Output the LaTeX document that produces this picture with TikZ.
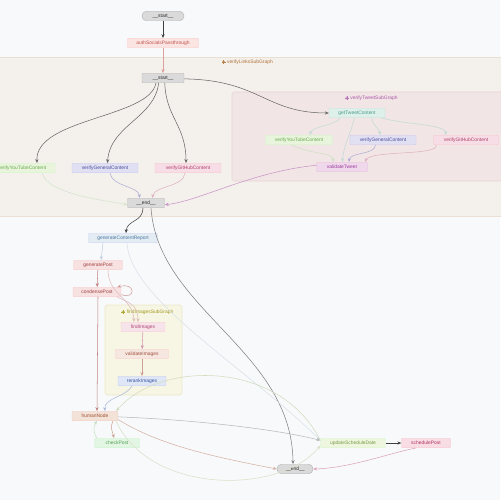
\documentclass[tikz,border=0pt]{standalone}
\usepackage{fontspec}
\setmainfont{Liberation Sans}
\usetikzlibrary{arrows.meta}
\definecolor{bg}{HTML}{F8F9FB}
\definecolor{clA}{HTML}{F4F0EC}\definecolor{clAb}{HTML}{EADFD3}
\definecolor{clB}{HTML}{F2E5E5}\definecolor{clBb}{HTML}{E8D4D4}
\definecolor{clC}{HTML}{F7F5E3}\definecolor{clCb}{HTML}{ECE8CA}
\definecolor{gfill}{HTML}{DADADA}\definecolor{gdraw}{HTML}{B5B5B5}
\definecolor{redf}{HTML}{FBE5E2}\definecolor{redt}{HTML}{C0504D}
\definecolor{tealf}{HTML}{DDF0EA}\definecolor{tealt}{HTML}{4A9A8A}
\definecolor{grnf}{HTML}{E8F5DC}\definecolor{grnt}{HTML}{6AA84F}
\definecolor{bluf}{HTML}{E0E0F2}\definecolor{blut}{HTML}{4A4AA0}
\definecolor{pnkf}{HTML}{F7DDE6}\definecolor{pnkt}{HTML}{B0406A}
\definecolor{purf}{HTML}{EFD8EC}\definecolor{purt}{HTML}{9A3A9A}
\definecolor{lbf}{HTML}{E3ECF3}\definecolor{lbt}{HTML}{4A78A0}
\definecolor{rosf}{HTML}{F7E1E1}\definecolor{rost}{HTML}{A04040}
\definecolor{fif}{HTML}{F7E4EA}\definecolor{fit}{HTML}{B04070}
\definecolor{vif}{HTML}{F6E7E1}\definecolor{vit}{HTML}{A05040}
\definecolor{rif}{HTML}{DFE6F5}\definecolor{rit}{HTML}{3050A0}
\definecolor{hnf}{HTML}{F2E2D8}\definecolor{hnt}{HTML}{A05030}
\definecolor{ckf}{HTML}{E3F5E3}\definecolor{ckt}{HTML}{50A050}
\definecolor{usf}{HTML}{EEF6E0}\definecolor{ust}{HTML}{7A9A40}
\definecolor{spf}{HTML}{F8DDE5}\definecolor{spt}{HTML}{B03060}
\tikzset{
  box/.style={rectangle, draw, rounded corners=0.5pt, line width=0.25pt, minimum height=0.19cm, inner sep=0pt, font=\fontsize{2.8}{3}\selectfont},
  pill/.style={box, fill=gfill, draw=gdraw, rounded corners=0.09cm, text=black!85},
  term/.style={box, fill=gfill, draw=gdraw, text=black!85},
  conn/.style={line width=0.3pt, -{Stealth[length=2.2pt,width=1.8pt]}},
  clus/.style={line width=0.3pt},
  clab/.style={font=\fontsize{2.8}{3}\selectfont, inner sep=0pt}
}
\begin{document}
\begin{tikzpicture}[x=0.02cm, y=-0.02cm]
\fill[bg] (0,0) rectangle (500,500);
\useasboundingbox (0,0) rectangle (500,500);
% clusters
\draw[clus, fill=clA, draw=clAb] (-2,57) rectangle (502,216);
\draw[clus, fill=clB, draw=clBb, rounded corners=1pt] (232,92) rectangle (502,181);
\draw[clus, fill=clC, draw=clCb, rounded corners=1pt] (105,305) rectangle (182,395);
\node[clab, text=orange!60!black!80] (lA) at (250,62) {verifyLinksSubGraph};
\node[clab, text=purt!85] (lB) at (374,98) {verifyTweetSubGraph};
\node[clab, text=olive!85] (lC) at (150,312) {findImagesSubGraph};
\foreach \n/\c in {lA/orange!60!black!70, lB/purt!70, lC/olive!70}{
  \draw[\c, line width=0.2pt] ([xshift=-1.8pt]\n.west) circle (0.75pt);
  \draw[\c, line width=0.2pt] ([xshift=-2.9pt]\n.west) -- ([xshift=-0.7pt]\n.west);
  \draw[\c, line width=0.2pt] ([xshift=-1.8pt,yshift=1.1pt]\n.west) -- ([xshift=-1.8pt,yshift=-1.1pt]\n.west);
}
% nodes
\node[pill, minimum width=0.84cm] (s0) at (163,16) {\_\_start\_\_};
\node[box, fill=redf, draw=redf!85!red, text=redt, minimum width=1.42cm] (auth) at (163,43) {authSocialsPassthrough};
\node[term, minimum width=0.84cm] (s1) at (163,78) {\_\_start\_\_};
\node[box, fill=tealf, draw=tealf!88!teal, text=tealt, minimum width=1.12cm] (gtc) at (357,113) {getTweetContent};
\node[box, fill=grnf, draw=grnf!88!green, text=grnt, minimum width=1.34cm] (tyt) at (299,140) {verifyYouTubeContent};
\node[box, fill=bluf, draw=bluf!88!blue, text=blut, minimum width=1.32cm] (tgen) at (383,140) {verifyGeneralContent};
\node[box, fill=pnkf, draw=pnkf!88!red, text=pnkt, minimum width=1.30cm] (tgh) at (466,140) {verifyGitHubContent};
\node[box, fill=purf, draw=purf!88!purple, text=purt, minimum width=1.02cm] (vt) at (342,167) {validateTweet};
\node[box, fill=grnf, draw=grnf!88!green, text=grnt, minimum width=1.32cm] (oyt) at (22,168) {verifyYouTubeContent};
\node[box, fill=bluf, draw=bluf!88!blue, text=blut, minimum width=1.32cm] (ogen) at (105,168) {verifyGeneralContent};
\node[box, fill=pnkf, draw=pnkf!88!red, text=pnkt, minimum width=1.32cm] (ogh) at (188,168) {verifyGitHubContent};
\node[term, minimum width=0.74cm] (e1) at (146,203) {\_\_end\_\_};
\node[box, fill=lbf, draw=lbf!88!blue, text=lbt, minimum width=1.38cm] (gcr) at (123,238) {generateContentReport};
\node[box, fill=rosf, draw=rosf!88!red, text=rost, minimum width=0.98cm] (gp) at (98,265) {generatePost};
\node[box, fill=rosf, draw=rosf!88!red, text=rost, minimum width=0.96cm] (cp) at (97,292) {condensePost};
\node[box, fill=fif, draw=fif!88!red, text=fit, minimum width=0.88cm] (fi) at (143,327) {findImages};
\node[box, fill=vif, draw=vif!88!red, text=vit, minimum width=1.06cm] (vi) at (142,354) {validateImages};
\node[box, fill=rif, draw=rif!88!blue, text=rit, minimum width=0.96cm] (ri) at (142,381) {rerankImages};
\node[box, fill=hnf, draw=hnf!88!red, text=hnt, minimum width=0.92cm] (hn) at (95,416) {humanNode};
\node[box, fill=ckf, draw=ckf!88!green, text=ckt, minimum width=0.90cm] (ck) at (117,443) {checkPost};
\node[box, fill=usf, draw=usf!88!green, text=ust, minimum width=1.30cm] (usd) at (353,443) {updateScheduleDate};
\node[box, fill=spf, draw=spf!88!red, text=spt, minimum width=0.98cm] (sp) at (426,443) {schedulePost};
\node[pill, minimum width=0.72cm] (e2) at (295,469) {\_\_end\_\_};
% connectors top
\draw[conn, black!75] (s0) -- (auth);
\draw[conn, redt!55] (auth) -- (s1);
\draw[conn, black!60] ([xshift=-4pt]s1.south) .. controls (150,118) and (35,118) .. ([xshift=0.3cm]oyt.north);
\draw[conn, black!60] ([xshift=-2.5pt]s1.south) .. controls (155,118) and (110,125) .. ([xshift=0.05cm]ogen.north);
\draw[conn, black!60] ([xshift=1pt]s1.south) .. controls (166,118) and (186,125) .. ([xshift=-0.04cm]ogh.north);
\draw[conn, black!60] ([yshift=-0.5pt]s1.east) .. controls (260,80) and (265,113) .. (gtc.west);
\draw[conn, tealt!35] ([xshift=-0.34cm]gtc.south) .. controls (335,126) and (312,126) .. ([xshift=0.22cm]tyt.north);
\draw[conn, tealt!35] ([xshift=0.3cm]gtc.south) .. controls (372,126) and (378,126) .. ([xshift=-0.05cm]tgen.north);
\draw[conn, tealt!35] ([xshift=0.5cm]gtc.south) .. controls (400,124) and (445,124) .. ([xshift=-0.4cm]tgh.north);
\draw[conn, tealt!35] ([xshift=-0.05cm]gtc.south) .. controls (350,135) and (343,148) .. ([xshift=0.01cm]vt.north);
\draw[conn, grnt!35] ([xshift=-0.15cm]tyt.south) .. controls (312,155) and (333,152) .. ([xshift=-0.18cm]vt.north);
\draw[conn, blut!45] ([xshift=-0.15cm]tgen.south) .. controls (375,155) and (350,152) .. ([xshift=0.14cm]vt.north);
\draw[conn, pnkt!40] ([xshift=-0.6cm]tgh.south) .. controls (440,156) and (370,150) .. ([xshift=0.46cm]vt.north);
\draw[conn, purt!55] ([yshift=1pt]vt.west) .. controls (250,172) and (200,201) .. ([yshift=-1pt]e1.east);
\draw[conn, grnt!30] ([xshift=0.4cm]oyt.south) .. controls (48,195) and (110,201) .. ([yshift=-1pt]e1.west);
\draw[conn, blut!45] ([xshift=0.1cm]ogen.south) .. controls (112,187) and (139,186) .. ([xshift=-0.13cm]e1.north);
\draw[conn, pnkt!40] ([xshift=-0.06cm]ogh.south) .. controls (184,187) and (154,186) .. ([xshift=0.13cm]e1.north);
% connectors bottom
\draw[conn, black!75] ([xshift=-0.06cm]e1.south) .. controls (143,222) and (127,220) .. ([xshift=0.06cm]gcr.north);
\draw[conn, black!50] ([xshift=0.1cm]e1.south) .. controls (158,310) and (292,350) .. ([xshift=-0.04cm]e2.north);
\draw[conn, lbt!35] ([xshift=-0.4cm]gcr.south) -- ([xshift=0.06cm]gp.north);
\draw[conn, lbt!22] ([xshift=0.08cm]gcr.south) .. controls (130,300) and (250,370) .. ([yshift=1.5pt]usd.west);
\draw[conn, rost!65] (gp) -- (cp);
\draw[conn, rost!35] ([xshift=0.2cm]gp.south) .. controls (108,295) and (133,298) .. ([xshift=-0.18cm]fi.north);
\draw[conn, rost!35] ([xshift=0.4cm]cp.south) .. controls (130,303) and (138,305) .. ([xshift=-0.1cm]fi.north);
\draw[conn, rost!50] ([yshift=-1.5pt]cp.east) .. controls (136,300) and (136,282) .. ([xshift=-0.08cm]cp.north east);
\draw[conn, rost!65] ([xshift=0.02cm]cp.south) -- ([xshift=0.04cm]hn.north);
\draw[conn, fit!55] (fi) -- (vi);
\draw[conn, vit!55] (vi) -- (ri);
\draw[conn, rit!40] ([xshift=-0.2cm]ri.south) .. controls (126,397) and (104,398) .. ([xshift=0.2cm]hn.north);
\draw[conn, ust!35] ([yshift=1.5pt]usd.west) .. controls (280,360) and (160,360) .. ([xshift=-0.04cm]hn.north east);
\draw[conn, black!28] ([yshift=-0.5pt]hn.east) .. controls (200,420) and (280,430) .. ([yshift=1.5pt]usd.west);
\draw[conn, hnt!45] ([yshift=-2pt]hn.east) .. controls (160,446) and (220,458) .. (e2.west);
\draw[conn, hnt!55] ([xshift=0.36cm]hn.south) .. controls (110,428) and (112,430) .. ([xshift=-0.06cm]ck.north);
\draw[conn, ckt!35] ([xshift=-0.4cm]ck.north) .. controls (95,436) and (92,428) .. ([xshift=0.04cm]hn.south);
\draw[conn, ust!30] ([xshift=0.42cm]hn.south) .. controls (150,495) and (280,495) .. ([yshift=-1.5pt]usd.west);
\draw[conn, black!75] (usd) -- (sp);
\draw[conn, spt!45] ([xshift=-0.2cm]sp.south) .. controls (390,453) and (350,468) .. (e2.east);
\end{tikzpicture}
\end{document}
